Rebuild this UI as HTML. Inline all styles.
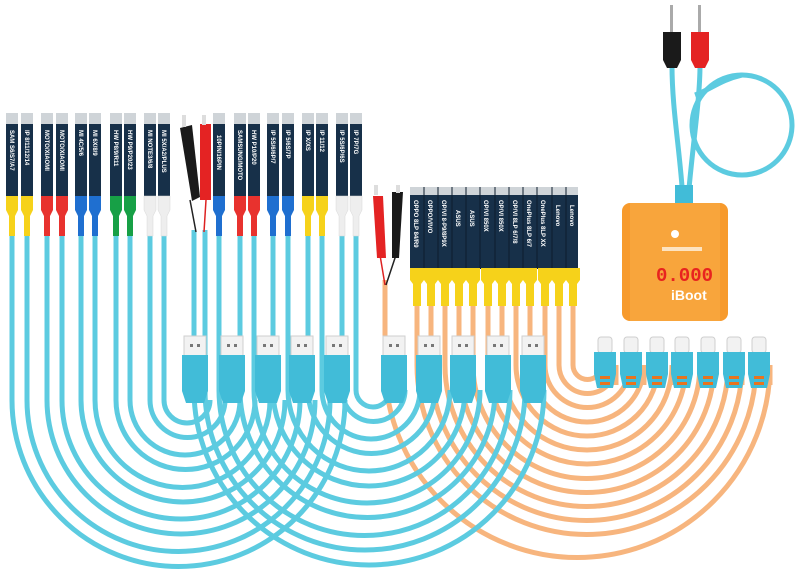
<!DOCTYPE html>
<html><head><style>
html,body{margin:0;padding:0;background:#fff;width:800px;height:586px;overflow:hidden}
svg{display:block}
.c{fill:none;stroke:#5ccbe0;stroke-width:5}
.o{fill:none;stroke:#f7b57e;stroke-width:5}
.t{font-family:"Liberation Sans",sans-serif;font-size:6px;fill:#fff;font-weight:bold}
</style></head><body>
<svg width="800" height="586" viewBox="0 0 800 586" xmlns="http://www.w3.org/2000/svg">
<!-- cyan set A -->
<g class="c">
<path d="M12 235V400A166.5 166.5 0 0 0 345 400"/>
<path d="M27 235V400A151.5 151.5 0 0 0 330 400"/>
<path d="M47 235V400A134 134 0 0 0 315 400"/>
<path d="M62 235V400A119 119 0 0 0 300 400"/>
<path d="M81 235V400A102 102 0 0 0 285 400"/>
<path d="M95 235V400A87.5 87.5 0 0 0 270 400"/>
<path d="M116 235V400A69.5 69.5 0 0 0 255 400"/>
<path d="M130 235V400A55 55 0 0 0 240 400"/>
<path d="M150 235V400A37.5 37.5 0 0 0 225 400"/>
<path d="M164 235V400A23 23 0 0 0 210 400"/>
</g>
<!-- orange -->
<g class="o">
<path d="M385 280V365A192.5 192.5 0 0 0 770 365V385"/>
<path d="M417 305V365A169.5 169.5 0 0 0 756 365V385"/>
<path d="M431 305V365A155.5 155.5 0 0 0 742 365V385"/>
<path d="M445 305V365A141.5 141.5 0 0 0 728 365V385"/>
<path d="M459 305V365A127.5 127.5 0 0 0 714 365V385"/>
<path d="M473 305V365A113.5 113.5 0 0 0 700 365V385"/>
<path d="M488 305V365A99 99 0 0 0 686 365V385"/>
<path d="M502 305V365A85 85 0 0 0 672 365V385"/>
<path d="M516 305V365A71 71 0 0 0 658 365V385"/>
<path d="M530 305V365A57 57 0 0 0 644 365V385"/>
<path d="M545 305V365A42.5 42.5 0 0 0 630 365V385"/>
<path d="M559 305V365A28.5 28.5 0 0 0 616 365V385"/>
<path d="M573 305V365A14.5 14.5 0 0 0 602 365V385"/>
</g>
<!-- cyan set B -->
<g class="c">
<path d="M194 230V390A175 175 0 0 0 544 390"/>
<path d="M205 230V390A160 160 0 0 0 525 390"/>
<path d="M219 235V390A145.5 145.5 0 0 0 510 390"/>
<path d="M240 235V390A127.5 127.5 0 0 0 495 390"/>
<path d="M254 235V390A113 113 0 0 0 480 390"/>
<path d="M273 235V390A96 96 0 0 0 465 390"/>
<path d="M288 235V390A81 81 0 0 0 450 390"/>
<path d="M308 235V390A63.5 63.5 0 0 0 435 390"/>
<path d="M322 235V390A49 49 0 0 0 420 390"/>
<path d="M342 235V390A31.5 31.5 0 0 0 405 390"/>
<path d="M356 235V390A17 17 0 0 0 390 390"/>
</g>
<!-- left boards -->
<g>
<g fill="#cfd4d8">
<rect x="6" y="113" width="12" height="12"/><rect x="21" y="113" width="12" height="12"/>
<rect x="41" y="113" width="12" height="12"/><rect x="56" y="113" width="12" height="12"/>
<rect x="75" y="113" width="12" height="12"/><rect x="89" y="113" width="12" height="12"/>
<rect x="110" y="113" width="12" height="12"/><rect x="124" y="113" width="12" height="12"/>
<rect x="144" y="113" width="12" height="12"/><rect x="158" y="113" width="12" height="12"/>
<rect x="213" y="113" width="12" height="12"/>
<rect x="234" y="113" width="12" height="12"/><rect x="248" y="113" width="12" height="12"/>
<rect x="267" y="113" width="12" height="12"/><rect x="282" y="113" width="12" height="12"/>
<rect x="302" y="113" width="12" height="12"/><rect x="316" y="113" width="12" height="12"/>
<rect x="336" y="113" width="12" height="12"/><rect x="350" y="113" width="12" height="12"/>
</g>
<g fill="#173049">
<rect x="6" y="124" width="12" height="73"/><rect x="21" y="124" width="12" height="73"/>
<rect x="41" y="124" width="12" height="73"/><rect x="56" y="124" width="12" height="73"/>
<rect x="75" y="124" width="12" height="73"/><rect x="89" y="124" width="12" height="73"/>
<rect x="110" y="124" width="12" height="73"/><rect x="124" y="124" width="12" height="73"/>
<rect x="144" y="124" width="12" height="73"/><rect x="158" y="124" width="12" height="73"/>
<rect x="213" y="124" width="12" height="73"/>
<rect x="234" y="124" width="12" height="73"/><rect x="248" y="124" width="12" height="73"/>
<rect x="267" y="124" width="12" height="73"/><rect x="282" y="124" width="12" height="73"/>
<rect x="302" y="124" width="12" height="73"/><rect x="316" y="124" width="12" height="73"/>
<rect x="336" y="124" width="12" height="73"/><rect x="350" y="124" width="12" height="73"/>
</g>
<g fill="#f6d21a"><path d="M6 196h12v14l-3 6v20h-6v-20l-3-6z"/><path d="M21 196h12v14l-3 6v20h-6v-20l-3-6z"/><path d="M302 196h12v14l-3 6v20h-6v-20l-3-6z"/><path d="M316 196h12v14l-3 6v20h-6v-20l-3-6z"/></g>
<g fill="#e8322e"><path d="M41 196h12v14l-3 6v20h-6v-20l-3-6z"/><path d="M56 196h12v14l-3 6v20h-6v-20l-3-6z"/><path d="M234 196h12v14l-3 6v20h-6v-20l-3-6z"/><path d="M248 196h12v14l-3 6v20h-6v-20l-3-6z"/></g>
<g fill="#1f6fd0"><path d="M75 196h12v14l-3 6v20h-6v-20l-3-6z"/><path d="M89 196h12v14l-3 6v20h-6v-20l-3-6z"/><path d="M213 196h12v14l-3 6v20h-6v-20l-3-6z"/><path d="M267 196h12v14l-3 6v20h-6v-20l-3-6z"/><path d="M282 196h12v14l-3 6v20h-6v-20l-3-6z"/></g>
<g fill="#17a046"><path d="M110 196h12v14l-3 6v20h-6v-20l-3-6z"/><path d="M124 196h12v14l-3 6v20h-6v-20l-3-6z"/></g>
<g fill="#eeeeee" stroke="#d8d8d8" stroke-width="0.5"><path d="M144 196h12v14l-3 6v20h-6v-20l-3-6z"/><path d="M158 196h12v14l-3 6v20h-6v-20l-3-6z"/><path d="M336 196h12v14l-3 6v20h-6v-20l-3-6z"/><path d="M350 196h12v14l-3 6v20h-6v-20l-3-6z"/></g>
<g class="t">
<text transform="translate(10,130) rotate(90)">SAM S6/S7/A7</text>
<text transform="translate(25,130) rotate(90)">IP 8/11/12/14</text>
<text transform="translate(45,130) rotate(90)">MOTO/XIAOMI</text>
<text transform="translate(60,130) rotate(90)">MOTO/XIAOMI</text>
<text transform="translate(79,130) rotate(90)">MI 4C/5/6</text>
<text transform="translate(93,130) rotate(90)">MI 6X/8/9</text>
<text transform="translate(114,130) rotate(90)">HW P8/9/R11</text>
<text transform="translate(128,130) rotate(90)">HW P9/P20/23</text>
<text transform="translate(148,130) rotate(90)">MI NOTE3/6/8</text>
<text transform="translate(162,130) rotate(90)">MI 5X/A2/PLUS</text>
<text transform="translate(217,135) rotate(90)">10PIN/16PIN</text>
<text transform="translate(238,130) rotate(90)">SAMSUNG/MOTO</text>
<text transform="translate(252,130) rotate(90)">HW P10/P20</text>
<text transform="translate(271,130) rotate(90)">IP 5S/6/6P/7</text>
<text transform="translate(286,130) rotate(90)">IP 5/6S/7P</text>
<text transform="translate(306,130) rotate(90)">IP X/XS</text>
<text transform="translate(320,130) rotate(90)">IP 11/12</text>
<text transform="translate(340,130) rotate(90)">IP 5S/6P/6S</text>
<text transform="translate(354,130) rotate(90)">IP 7P/7G</text>
</g>
</g>
<!-- left clips -->
<line x1="190" y1="200" x2="196" y2="232" stroke="#222" stroke-width="1.5"/>
<line x1="206" y1="200" x2="204" y2="232" stroke="#d22" stroke-width="1.5"/>
<path d="M180 128l12-3 8 72-8 4z" fill="#1a1a1a"/>
<rect x="200" y="124" width="11" height="76" fill="#e42323"/>
<rect x="182" y="115" width="4" height="12" fill="#ddd"/><rect x="202" y="115" width="4" height="10" fill="#ddd"/>
<!-- middle clips -->
<line x1="380" y1="255" x2="385" y2="285" stroke="#d22" stroke-width="1.5"/>
<line x1="396" y1="255" x2="386" y2="285" stroke="#222" stroke-width="1.5"/>
<path d="M373 196h10l3 62h-9z" fill="#e42323"/>
<path d="M392 192h11l-4 66h-7z" fill="#1a1a1a"/>
<rect x="374" y="185" width="4" height="10" fill="#ddd"/><rect x="396" y="185" width="4" height="8" fill="#ddd"/>
<!-- right boards -->
<g>
<rect x="410" y="187" width="168" height="9" fill="#cfd4d8"/>
<rect x="410" y="195" width="168" height="74" fill="#173049"/>
<g stroke="#0c1d2d" stroke-width="1"><path d="M424 187v82M438 187v82M452 187v82M466 187v82M480 187v82M495 187v82M509 187v82M523 187v82M537 187v82M552 187v82M566 187v82"/></g>
<g fill="#f6d21a">
<path d="M410 268h14v12l-3 4v22h-8v-22l-3-4z"/><path d="M424 268h14v12l-3 4v22h-8v-22l-3-4z"/><path d="M438 268h14v12l-3 4v22h-8v-22l-3-4z"/><path d="M452 268h14v12l-3 4v22h-8v-22l-3-4z"/><path d="M466 268h14v12l-3 4v22h-8v-22l-3-4z"/><path d="M481 268h14v12l-3 4v22h-8v-22l-3-4z"/><path d="M495 268h14v12l-3 4v22h-8v-22l-3-4z"/><path d="M509 268h14v12l-3 4v22h-8v-22l-3-4z"/><path d="M523 268h14v12l-3 4v22h-8v-22l-3-4z"/><path d="M538 268h14v12l-3 4v22h-8v-22l-3-4z"/><path d="M552 268h14v12l-3 4v22h-8v-22l-3-4z"/><path d="M566 268h14v12l-3 4v22h-8v-22l-3-4z"/>
</g>
<g class="t">
<text transform="translate(414,200) rotate(90)">OPPO 8LP 84/R9</text>
<text transform="translate(428,200) rotate(90)">OPPO/VIVO</text>
<text transform="translate(442,200) rotate(90)">OP/VI 8-P9/8P9X</text>
<text transform="translate(456,210) rotate(90)">ASUS</text>
<text transform="translate(470,210) rotate(90)">ASUS</text>
<text transform="translate(484,200) rotate(90)">OP/VI 850X</text>
<text transform="translate(499,200) rotate(90)">OP/VI 850X</text>
<text transform="translate(513,200) rotate(90)">OP/VI 8LP 6/7/8</text>
<text transform="translate(527,200) rotate(90)">OnePlus 8LP 6/7</text>
<text transform="translate(541,200) rotate(90)">OnePlus 8LP XX</text>
<text transform="translate(556,205) rotate(90)">Lenovo</text>
<text transform="translate(570,205) rotate(90)">Lenovo</text>
</g>
</g>
<!-- USB-A plugs -->
<g id="ua">
<g fill="#f2f2f2" stroke="#cfcfcf" stroke-width="1">
<rect x="184" y="336" width="22" height="20"/><rect x="221" y="336" width="22" height="20"/><rect x="257" y="336" width="22" height="20"/><rect x="291" y="336" width="22" height="20"/><rect x="326" y="336" width="22" height="20"/>
<rect x="383" y="336" width="22" height="20"/><rect x="418" y="336" width="22" height="20"/><rect x="452" y="336" width="22" height="20"/><rect x="487" y="336" width="22" height="20"/><rect x="522" y="336" width="22" height="20"/>
</g>
<g fill="#41bcd8">
<path d="M182 355h26v36l-4 12h-18l-4-12z"/><path d="M219 355h26v36l-4 12h-18l-4-12z"/><path d="M255 355h26v36l-4 12h-18l-4-12z"/><path d="M289 355h26v36l-4 12h-18l-4-12z"/><path d="M324 355h26v36l-4 12h-18l-4-12z"/>
<path d="M381 355h26v36l-4 12h-18l-4-12z"/><path d="M416 355h26v36l-4 12h-18l-4-12z"/><path d="M450 355h26v36l-4 12h-18l-4-12z"/><path d="M485 355h26v36l-4 12h-18l-4-12z"/><path d="M520 355h26v36l-4 12h-18l-4-12z"/>
</g>
<g fill="#777"><rect x="190" y="344" width="3" height="3"/><rect x="197" y="344" width="3" height="3"/><rect x="227" y="344" width="3" height="3"/><rect x="234" y="344" width="3" height="3"/><rect x="263" y="344" width="3" height="3"/><rect x="270" y="344" width="3" height="3"/><rect x="297" y="344" width="3" height="3"/><rect x="304" y="344" width="3" height="3"/><rect x="332" y="344" width="3" height="3"/><rect x="339" y="344" width="3" height="3"/><rect x="389" y="344" width="3" height="3"/><rect x="396" y="344" width="3" height="3"/><rect x="424" y="344" width="3" height="3"/><rect x="431" y="344" width="3" height="3"/><rect x="458" y="344" width="3" height="3"/><rect x="465" y="344" width="3" height="3"/><rect x="493" y="344" width="3" height="3"/><rect x="500" y="344" width="3" height="3"/><rect x="528" y="344" width="3" height="3"/><rect x="535" y="344" width="3" height="3"/></g>
</g>
<!-- USB-C plugs -->
<g>
<g fill="#f2f2f2" stroke="#cfcfcf" stroke-width="1">
<rect x="598" y="337" width="14" height="16" rx="3"/><rect x="624" y="337" width="14" height="16" rx="3"/><rect x="650" y="337" width="14" height="16" rx="3"/><rect x="675" y="337" width="14" height="16" rx="3"/><rect x="701" y="337" width="14" height="16" rx="3"/><rect x="727" y="337" width="14" height="16" rx="3"/><rect x="752" y="337" width="14" height="16" rx="3"/>
</g>
<g fill="#41bcd8">
<path d="M594 352h22v22l-3 14h-16l-3-14z"/><path d="M620 352h22v22l-3 14h-16l-3-14z"/><path d="M646 352h22v22l-3 14h-16l-3-14z"/><path d="M671 352h22v22l-3 14h-16l-3-14z"/><path d="M697 352h22v22l-3 14h-16l-3-14z"/><path d="M723 352h22v22l-3 14h-16l-3-14z"/><path d="M748 352h22v22l-3 14h-16l-3-14z"/>
</g>
<g fill="#e8741e"><rect x="600" y="376" width="10" height="3"/><rect x="600" y="382" width="10" height="3"/><rect x="626" y="376" width="10" height="3"/><rect x="626" y="382" width="10" height="3"/><rect x="652" y="376" width="10" height="3"/><rect x="652" y="382" width="10" height="3"/><rect x="677" y="376" width="10" height="3"/><rect x="677" y="382" width="10" height="3"/><rect x="703" y="376" width="10" height="3"/><rect x="703" y="382" width="10" height="3"/><rect x="729" y="376" width="10" height="3"/><rect x="729" y="382" width="10" height="3"/><rect x="754" y="376" width="10" height="3"/><rect x="754" y="382" width="10" height="3"/></g>
</g>
<!-- banana plugs and loop -->
<circle cx="742" cy="125" r="50" fill="none" stroke="#5ccbe0" stroke-width="5"/>
<path d="M672 65C672 110 680 150 683 200" fill="none" stroke="#5ccbe0" stroke-width="5"/>
<path d="M700 65C700 100 692 150 688 200" fill="none" stroke="#5ccbe0" stroke-width="5"/>
<path d="M695 95C710 90 720 80 742 75" fill="none" stroke="#5ccbe0" stroke-width="5"/>
<rect x="670" y="5" width="3" height="28" fill="#aaa"/><rect x="698" y="5" width="3" height="28" fill="#aaa"/>
<path d="M663 32h18v28l-4 8h-10l-4-8z" fill="#1a1a1a"/>
<path d="M691 32h18v28l-4 8h-10l-4-8z" fill="#e42323"/>
<path d="M675 185h18v20h-18z" fill="#41bcd8"/>
<!-- box -->
<rect x="622" y="203" width="106" height="118" rx="8" fill="#f79a2c"/>
<rect x="630" y="203" width="90" height="118" fill="#f8a53c"/>
<circle cx="675" cy="234" r="4" fill="#fff"/>
<rect x="662" y="247" width="40" height="4" fill="#fde3c0"/>
<text x="656" y="281" font-family="Liberation Mono,monospace" font-size="19" fill="#e8231f" font-weight="bold">0.000</text>
<text x="671" y="300" font-family="Liberation Sans,sans-serif" font-size="14" fill="#fff" font-weight="bold">iBoot</text>
</svg>
</body></html>
